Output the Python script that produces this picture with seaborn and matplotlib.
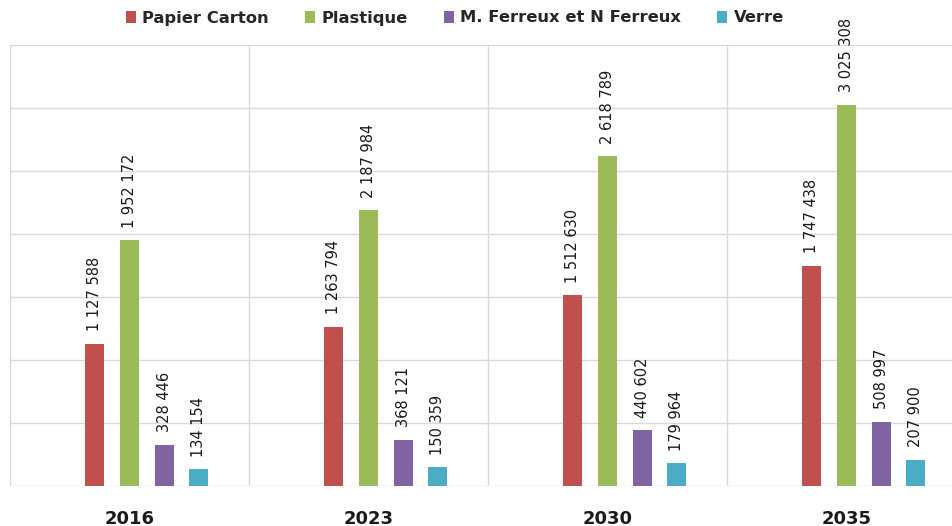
import matplotlib
matplotlib.use("Agg")
import matplotlib.pyplot as plt
import seaborn as sns
import pandas as pd
from matplotlib.patches import Patch

years = ["2016", "2023", "2030", "2035"]
series = ["Papier Carton", "Plastique", "M. Ferreux et N Ferreux", "Verre"]
papier = [1127588, 1263794, 1512630, 1747438]
plastique = [1952172, 2187984, 2618789, 3025308]
metaux = [328446, 368121, 440602, 508997]
verre = [134154, 150359, 179964, 207900]
colors = ["#C0504D", "#9BBB59", "#8064A2", "#4BACC6"]

values = [papier, plastique, metaux, verre]
rows = []
for y_i, yr in enumerate(years):
    rows.append({"year": yr, "serie": "_blank", "val": 0})
    for s, v in zip(series, values):
        rows.append({"year": yr, "serie": s, "val": v[y_i]})
df = pd.DataFrame(rows)

sns.set_style("white")
plt.rcParams['font.family'] = ['DejaVu Sans']

fig = plt.figure(figsize=(9.52, 5.26), dpi=100)
ax = fig.add_axes([10/952, 40/526, 956/952, 441/526])

hue_order = ["_blank"] + series
palette = dict(zip(hue_order, ["#FFFFFF"] + colors))
sns.barplot(data=df, x="year", y="val", hue="serie", hue_order=hue_order,
            palette=palette, saturation=1, width=0.722, gap=0.45, linewidth=0,
            ax=ax, legend=False, zorder=3)

ax.set_ylim(0, 3500000)
ax.set_xlim(-0.5, 3.5)
ax.set_yticks(range(0, 3500001, 500000))
ax.set_yticklabels([])
ax.tick_params(axis="y", length=0)
ax.tick_params(axis="x", length=0, pad=17)
ax.grid(axis="y", color="#D9D9D9", linewidth=1, zorder=0)
for xb in [-0.5, 0.5, 1.5, 2.5, 3.5]:
    ax.axvline(xb, color="#D9D9D9", linewidth=1, zorder=0)
for sp in ax.spines.values():
    sp.set_visible(False)
ax.set_xlabel("")
ax.set_ylabel("")
for lab in ax.get_xticklabels():
    lab.set_fontsize(13)
    lab.set_fontweight("bold")
    lab.set_color("#1a1a1a")

def fmt(v):
    return f"{v:,}".replace(",", " ")

for cont, name in zip(ax.containers, hue_order):
    if name == "_blank":
        continue
    for bar in cont:
        h = bar.get_height()
        ax.annotate(fmt(int(round(h))), (bar.get_x() + bar.get_width()/2, h),
                    xytext=(0, 9), textcoords="offset points",
                    rotation=90, ha="center", va="bottom",
                    fontsize=10.5, color="#1a1a1a", annotation_clip=False)

handles = [Patch(facecolor=c, edgecolor="none") for c in colors]
fig.legend(handles, series, loc="center", bbox_to_anchor=(455/952, 1 - 18/526),
           ncol=4, frameon=False, handlelength=0.6, handleheight=0.8,
           handletextpad=0.4, columnspacing=2.2,
           prop={"weight": "bold", "size": 11.8})

fig.savefig("out.png", dpi=100)
